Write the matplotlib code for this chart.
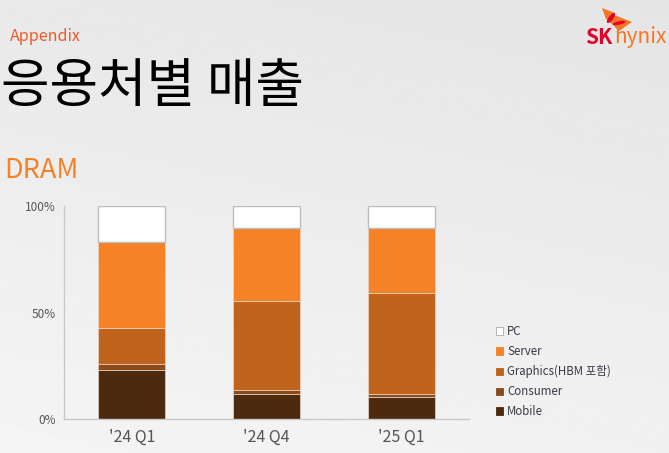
import numpy as np
import matplotlib.pyplot as plt
from matplotlib.patches import Polygon, Ellipse, Patch

plt.rcParams['font.family'] = ['Noto Sans CJK KR', 'DejaVu Sans']

# data (share of DRAM revenue, %)
quarters = ["'24 Q1", "'24 Q4", "'25 Q1"]
mobile = [22.9, 11.6, 10.3]
consumer = [2.8, 1.9, 1.4]
graphics = [17.2, 42.0, 47.5]
server = [40.3, 34.0, 30.6]
pc = [16.8, 10.5, 10.2]

series = [
    ('Mobile', mobile, '#4D2A0E'),
    ('Consumer', consumer, '#8A4A1A'),
    ('Graphics(HBM 포함)', graphics, '#C0631C'),
    ('Server', server, '#F58226'),
    ('PC', pc, '#FFFFFF'),
]

W, H = 669, 453
fig = plt.figure(figsize=(W / 100, H / 100), dpi=100)


def px(x, y):
    # pixel position -> figure fraction
    return [x / W, 1 - y / H]


# background gradient, darker at top right, lighter at bottom left
bg = fig.add_axes([0, 0, 1, 1], zorder=-10)
yy, xx = np.mgrid[0:1:200j, 0:1:200j]
shade = 0.960 - 0.048 * yy - 0.015 * xx
bg.imshow(shade, cmap='gray', vmin=0, vmax=1, aspect='auto', extent=[0, 1, 0, 1],
          origin='lower')
bg.axis('off')

ax = fig.add_axes([0.0961, 0.075, 0.605, 0.470])
ax.set_facecolor('none')
x = np.arange(len(quarters))
bottom = np.zeros(len(quarters))
for name, vals, col in series:
    if name == 'PC':
        ax.bar(x, vals, 0.5, bottom=bottom, color=col, edgecolor='#BDBDBD', linewidth=1.0)
    else:
        ax.bar(x, vals, 0.5, bottom=bottom, color=col, edgecolor='#E8D6C8', linewidth=0.5)
    bottom += np.array(vals)

ax.set_xlim(-0.5, 2.5)
ax.set_ylim(0, 100)
ax.set_yticks([0, 50, 100])
ax.set_yticklabels(['0%', '50%', '100%'], fontsize=8.5, color='#555555')
ax.set_xticks(x)
ax.set_xticklabels(quarters, fontsize=11.5, color='#555555')
ax.tick_params(length=0, pad=6)
ax.tick_params(axis='x', pad=7)
for s in ['top', 'right']:
    ax.spines[s].set_visible(False)
for s in ['left', 'bottom']:
    ax.spines[s].set_color('#C8C8C8')
    ax.spines[s].set_linewidth(1)

# legend
handles = [Patch(facecolor=col, edgecolor='#AAAAAA' if name == 'PC' else col, linewidth=0.6, label=name)
           for name, vals, col in series[::-1]]
fig.legend(handles=handles, loc='upper left', bbox_to_anchor=(0.726, 0.305), frameon=False,
           fontsize=8.3, handlelength=0.6, handleheight=0.6, handletextpad=0.35,
           labelspacing=0.6, labelcolor='#3A3A48')

# titles
fig.text(0.015, 0.920, 'Appendix', fontsize=11.5, color='#F05A2A', va='center')
fig.text(0.002, 0.808, '응용처별 매출', fontsize=38, color='#000000', va='center',
         fontweight='medium')
fig.text(0.006, 0.624, 'DRAM', fontsize=19.5, color='#F58226', va='center')

# SK hynix logo
fig.text(*px(585, 37), 'SK', fontsize=15, color='#E4002B', fontweight='bold', va='center')
fig.text(*px(614, 37), 'hynix', fontsize=15, color='#F47725', va='center')
fig.patches.append(Polygon([px(602, 8), px(615, 13), px(613, 25), px(606, 19)],
                           closed=True, transform=fig.transFigure, facecolor='#F47725', edgecolor='none'))
fig.patches.append(Polygon([px(614, 15), px(632, 22), px(619, 31), px(613, 25)],
                           closed=True, transform=fig.transFigure, facecolor='#F47725', edgecolor='none'))
fig.patches.append(Ellipse(px(611, 18), 5 / W, 11 / H, angle=-25, transform=fig.transFigure,
                           facecolor='#E4002B', edgecolor='none'))
fig.patches.append(Ellipse(px(619, 23), 5 / W, 9 / H, angle=-70, transform=fig.transFigure,
                           facecolor='#E4002B', edgecolor='none'))

fig.savefig('out.png', dpi=100)
